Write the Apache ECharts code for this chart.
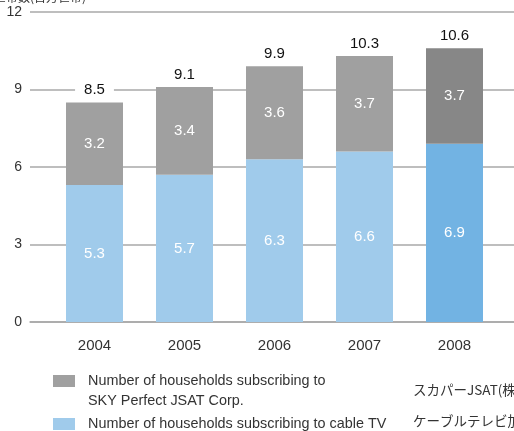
<!DOCTYPE html>
<html>
<head>
<meta charset="utf-8">
<script src="https://cdn.jsdelivr.net/npm/echarts@6/dist/echarts.min.js"></script>
<style>
  html, body { margin: 0; padding: 0; background: #fff; }
  #chart { width: 514px; height: 431px; }
</style>
</head>
<body>
<div id="chart"></div>
<script>
const years = ['2004', '2005', '2006', '2007', '2008']
const cableTV = [5.3, 5.7, 6.3, 6.6, 6.9]
const skyPerfect = [3.2, 3.4, 3.6, 3.7, 3.7]
const totals = [8.5, 9.1, 9.9, 10.3, 10.6]
const yTicks = { min: 0, max: 12, interval: 3 }

const C = {
  gray: '#a0a0a0',
  grayHi: '#878787',
  blue: '#a0cbeb',
  blueHi: '#72b3e3',
  grid: '#a8a8a8',
  text: '#333'
}
const FONT = '"Liberation Sans", Arial, sans-serif'
const JP = '"Noto Sans CJK JP", sans-serif'

const SKY = 'Number of households subscribing to'
const CATV = 'Number of households subscribing to cable TV'

const last = years.length - 1
// latest year drawn in stronger shades
const colorize = (arr, base, hi) =>
  arr.map((v, i) => ({ value: v, itemStyle: { color: i === last ? hi : base } }))

const inner = {
  show: true,
  position: 'inside',
  color: '#fff',
  fontSize: 15,
  fontFamily: FONT
}

const legendBase = {
  left: 48,
  itemWidth: 22,
  itemHeight: 12,
  icon: 'rect',
  selectedMode: false,
  textStyle: { color: C.text, fontSize: 14.4, fontFamily: FONT, padding: [0, 0, 0, 8] }
}

const chart = echarts.init(document.getElementById('chart'))
chart.setOption({
  backgroundColor: '#fff',
  animation: false,
  grid: [
    // wide grid: only the gridlines, they run past the bars on both sides
    { left: 30, right: 0, top: 12, bottom: 109, outerBoundsMode: 'none' },
    { left: 49.5, right: 14.5, top: 12, bottom: 109, outerBoundsMode: 'none' }
  ],
  xAxis: [
    {
      gridIndex: 0,
      type: 'category',
      data: years,
      axisLine: { show: true, lineStyle: { color: C.grid, width: 1.5 } },
      axisTick: { show: false },
      axisLabel: { show: false }
    },
    {
      gridIndex: 1,
      type: 'category',
      data: years,
      axisLine: { show: false },
      axisTick: { show: false },
      axisLabel: { color: C.text, fontSize: 15, fontFamily: FONT, margin: 16 }
    }
  ],
  yAxis: [
    {
      gridIndex: 0,
      type: 'value',
      ...yTicks,
      axisLine: { show: false },
      axisTick: { show: false },
      axisLabel: { color: C.text, fontSize: 14, fontFamily: FONT, margin: 8 },
      splitLine: { lineStyle: { color: C.grid, width: 1.5 } }
    },
    {
      gridIndex: 1,
      type: 'value',
      ...yTicks,
      show: false,
      splitLine: { show: false }
    }
  ],
  legend: [
    { ...legendBase, top: 369, data: [{ name: SKY, itemStyle: { color: C.gray } }] },
    { ...legendBase, top: 412, data: [{ name: CATV, itemStyle: { color: C.blue } }] }
  ],
  graphic: [
    { type: 'text', left: -6, top: -9, style: { text: '世帯数(百万世帯)', fill: C.text, font: '12px ' + JP } },
    { type: 'text', left: 88, top: 394, style: { text: 'SKY Perfect JSAT Corp.', fill: C.text, font: '14.4px ' + FONT } },
    { type: 'text', left: 413, top: 383, style: { text: 'スカパーJSAT(株)加入世帯数', fill: C.text, font: '13.5px ' + JP } },
    { type: 'text', left: 413, top: 414, style: { text: 'ケーブルテレビ加入世帯数', fill: C.text, font: '13.5px ' + JP } }
  ],
  series: [
    {
      name: CATV,
      type: 'bar',
      stack: 'hh',
      xAxisIndex: 1,
      yAxisIndex: 1,
      barWidth: 57,
      label: inner,
      data: colorize(cableTV, C.blue, C.blueHi)
    },
    {
      name: SKY,
      type: 'bar',
      stack: 'hh',
      xAxisIndex: 1,
      yAxisIndex: 1,
      barWidth: 57,
      label: inner,
      data: colorize(skyPerfect, C.gray, C.grayHi)
    },
    {
      // invisible bar carrying the total above each stack
      name: 'total',
      type: 'bar',
      xAxisIndex: 1,
      yAxisIndex: 1,
      barWidth: 57,
      barGap: '-100%',
      silent: true,
      itemStyle: { color: 'transparent' },
      label: {
        show: true,
        position: 'top',
        distance: 4,
        color: '#111',
        fontSize: 15,
        fontFamily: FONT,
        backgroundColor: '#fff',
        padding: [1, 9]
      },
      z: 1,
      data: totals
    }
  ]
})
</script>
</body>
</html>
